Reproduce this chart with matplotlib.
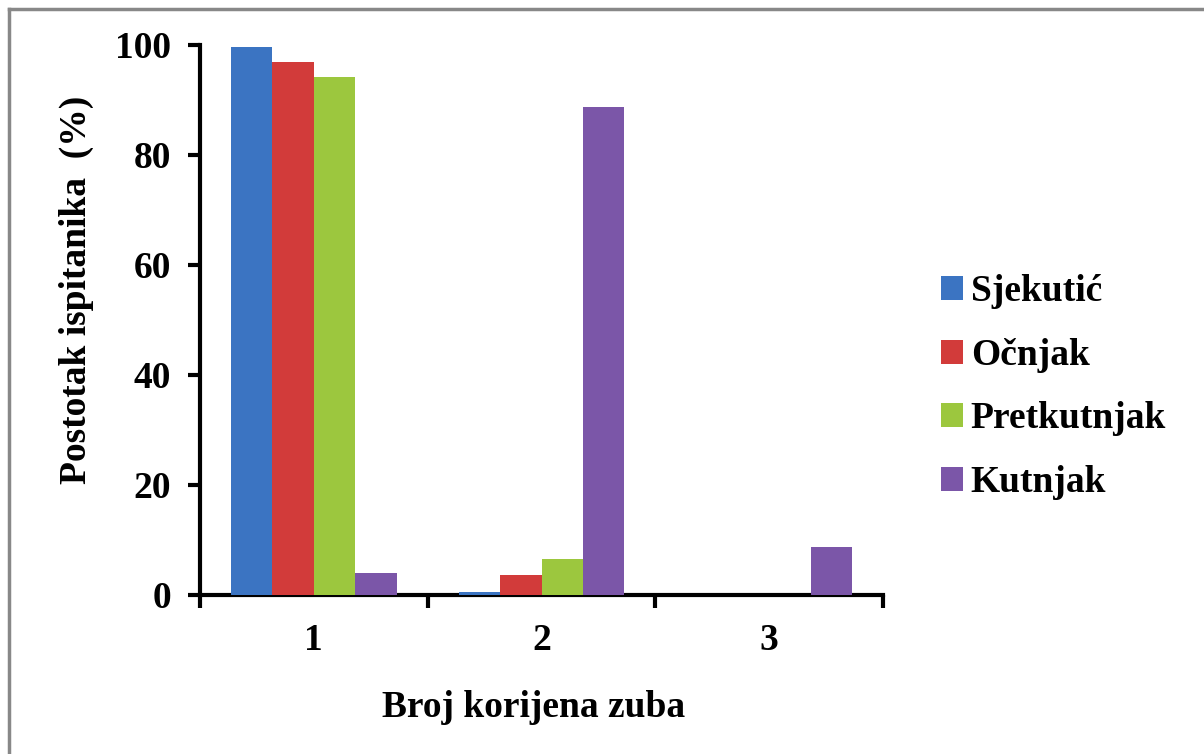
import numpy as np
import matplotlib.pyplot as plt
from matplotlib.lines import Line2D

# Data
groups = ['1', '2', '3']
series = ['Sjekutić', 'Očnjak', 'Pretkutnjak', 'Kutnjak']
sjekutic = [99.7, 0.6, 0.0]
ocnjak = [97.0, 3.6, 0.0]
pretkutnjak = [94.2, 6.6, 0.0]
kutnjak = [4.0, 88.7, 8.7]
colors = ['#3b74c2', '#d23b3a', '#9cc73e', '#7b56a8']

plt.rcParams['font.family'] = ['Liberation Serif', 'DejaVu Serif']
plt.rcParams['font.weight'] = 'bold'

fig = plt.figure(figsize=(12.04, 7.54), dpi=100)
ax = fig.add_axes([200 / 1204, 1 - 595 / 754, 683 / 1204, 550 / 754])

x = np.arange(1, len(groups) + 1)
w = 0.182
values = [sjekutic, ocnjak, pretkutnjak, kutnjak]
for i, (name, vals) in enumerate(zip(series, values)):
    ax.bar(x + (i - 1.5) * w, vals, w, color=colors[i], linewidth=0,
           label=name, zorder=3)

ax.set_xlim(0.5, 3.5)
ax.set_ylim(0, 100)
ax.set_yticks([0, 20, 40, 60, 80, 100])
ax.set_xticks(x)
ax.set_xticklabels(groups)
ax.set_xticks([0.5, 1.5, 2.5, 3.5], minor=True)
ax.tick_params(axis='x', which='major', length=0, pad=20, labelsize=27)
ax.tick_params(axis='x', which='minor', length=9, width=3, direction='out')
ax.tick_params(axis='y', length=9, width=3, direction='out', pad=12, labelsize=27)
for s in ['top', 'right']:
    ax.spines[s].set_visible(False)
for s in ['left', 'bottom']:
    ax.spines[s].set_linewidth(3)

ax.set_ylabel('Postotak ispitanika  (%)', fontsize=27, fontweight='bold')
ax.yaxis.set_label_coords(-0.155, 0.555)
ax.set_xlabel('Broj korijena zuba', fontsize=27, fontweight='bold')
ax.xaxis.set_label_coords(0.488, -0.173)

leg = ax.legend(loc='center left', bbox_to_anchor=(1.035, 0.378), frameon=False,
                fontsize=27, handlelength=0.6, handleheight=0.6, handletextpad=0.2,
                labelspacing=0.76)

# gray border (top and left only visible)
fig.add_artist(Line2D([9 / 1204, 1], [1 - 9 / 754, 1 - 9 / 754], color='#888888', lw=2.5,
                      transform=fig.transFigure))
fig.add_artist(Line2D([9 / 1204, 9 / 1204], [0, 1 - 9 / 754], color='#888888', lw=2.5,
                      transform=fig.transFigure))

fig.savefig('out.png', dpi=100)
